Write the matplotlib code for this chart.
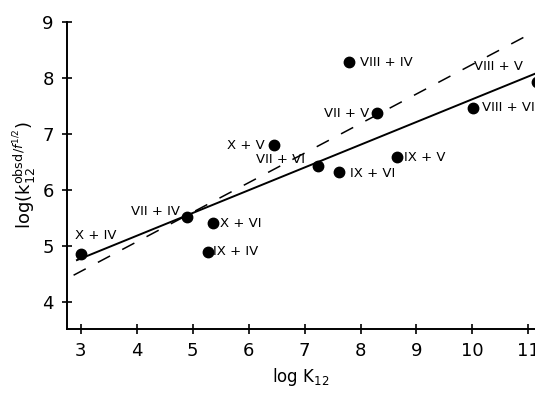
import matplotlib
matplotlib.use("Agg")
import matplotlib.pyplot as plt

# complex pairs: log K12 vs log(k12obsd / f^1/2)
labels = ["X + IV", "VII + IV", "X + VI", "IX + IV", "X + V", "VII + VI",
          "IX + VI", "IX + V", "VII + V", "VIII + IV", "VIII + VI", "VIII + V"]
log_K12 = [3.0, 4.89, 5.36, 5.27, 6.46, 7.24, 7.61, 8.66, 8.30, 7.79, 10.02, 11.15]
log_k12 = [4.86, 5.52, 5.41, 4.90, 6.80, 6.43, 6.32, 6.59, 7.37, 8.28, 7.47, 7.93]

# fitted (solid) and theoretical (dashed) lines
line_x = [2.93, 11.2]
solid_y = [4.75, 8.11]
dashed_x = [2.87, 10.96]
dashed_y = [4.48, 8.75]

# label offsets in points (dx, dy, ha)
offsets = [(-4, 13, "left"), (-5, 4, "right"), (5, 0, "left"), (4, 0, "left"),
           (-7, 0, "right"), (-9, 5, "right"), (8, -1, "left"), (5, 0, "left"),
           (-6, 0, "right"), (8, 0, "left"), (6, 0, "left"), (-45, 11, "left")]

fig = plt.figure(figsize=(5.35, 3.94), dpi=100)
ax = fig.add_axes([0.125, 0.165, 0.875, 0.779])

ax.plot(line_x, solid_y, color="black", lw=1.4)
ax.plot(dashed_x, dashed_y, color="black", lw=1.1, dashes=(9, 9))
ax.plot(log_K12, log_k12, "o", color="black", ms=7.5)

for name, x, y, (dx, dy, ha) in zip(labels, log_K12, log_k12, offsets):
    ax.annotate(name, (x, y), xytext=(dx, dy), textcoords="offset points",
                ha=ha, va="center", fontsize=9.5, annotation_clip=False)

ax.set_xlim(2.75, 11.12)
ax.set_ylim(3.52, 9.0)
ax.set_xticks(range(3, 12))
ax.set_yticks(range(4, 10))
ax.spines["top"].set_visible(False)
ax.spines["right"].set_visible(False)
ax.spines["left"].set_linewidth(1.4)
ax.spines["bottom"].set_linewidth(1.4)
ax.tick_params(direction="inout", length=7, width=1.2, labelsize=13, pad=6)

ax.set_xlabel(r"log K$_{12}$", fontsize=12, labelpad=4)
ax.set_ylabel(r"log(k$_{12}^{\mathrm{obsd}}$$^{/f^{1/2}}$)", fontsize=13, labelpad=2)

fig.savefig("out.png", dpi=100)
